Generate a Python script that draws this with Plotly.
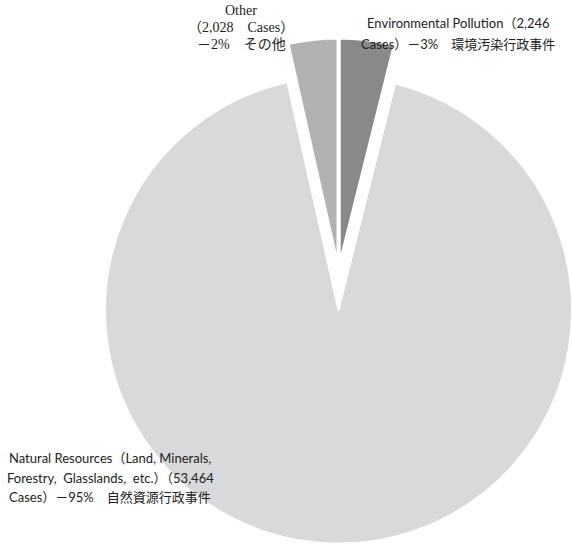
import plotly.graph_objects as go

# Administrative cases by category
categories = ["Environmental Pollution", "Natural Resources", "Other"]
cases = [2246, 53464, 2028]
colors = ["#88898b", "#d8d9db", "#b1b2b4"]

# Label lines for each category
label_other = ["Other", "（2,028　Cases）", "－2%　その他"]
label_env = ["Environmental Pollution（2,246", "Cases）－3%　環境汚染行政事件"]
label_nat = ["Natural Resources（Land, Minerals,",
             "Forestry,  Glasslands,  etc.）（53,464",
             "Cases）－95%　自然資源行政事件"]

W, H = 572, 545
CLEAR = "rgba(0,0,0,0)"
X0 = 105  # left edge of the pie area in pixels

fig = go.Figure()

# Main pie: only the large slice is visible
fig.add_trace(go.Pie(
    labels=categories, values=cases, sort=False, direction="clockwise", rotation=0,
    marker=dict(colors=[CLEAR, colors[1], CLEAR],
                line=dict(color="white", width=[0, 2, 0])),
    textinfo="none", hoverinfo="label+value", showlegend=False,
    domain=dict(x=[X0 / W, 1.0], y=[0.0, 470 / H]),
))

# Same pie, drawn raised, showing only the two small slices
fig.add_trace(go.Pie(
    labels=categories, values=cases, sort=False, direction="clockwise", rotation=0,
    marker=dict(colors=[colors[0], CLEAR, colors[2]],
                line=dict(color="white", width=[4, 0, 4])),
    textinfo="none", hoverinfo="label+value", showlegend=False,
    domain=dict(x=[X0 / W, 1.0], y=[(H - 506.5) / H, (H - 35.5) / H]),
))

serif = "Liberation Serif, Noto Sans CJK JP, serif"
sans = "Lato, Noto Sans CJK JP, sans-serif"

def add_lines(lines, cx, ys, family, size):
    for text, y in zip(lines, ys):
        fig.add_annotation(
            x=cx / W, y=1 - y / H, xref="paper", yref="paper",
            text=text, showarrow=False, xanchor="center", yanchor="middle",
            font=dict(family=family, size=size, color="#222222"),
        )

add_lines(label_other, 241, [10, 27, 44], serif, 14)
add_lines(label_env, 458, [23, 44], sans, 13)
add_lines(label_nat, 110, [458, 478, 497], sans, 13)

fig.update_layout(
    width=W, height=H,
    margin=dict(l=0, r=0, t=0, b=0),
    paper_bgcolor="white", plot_bgcolor="white",
)

fig.write_html("out.html")
